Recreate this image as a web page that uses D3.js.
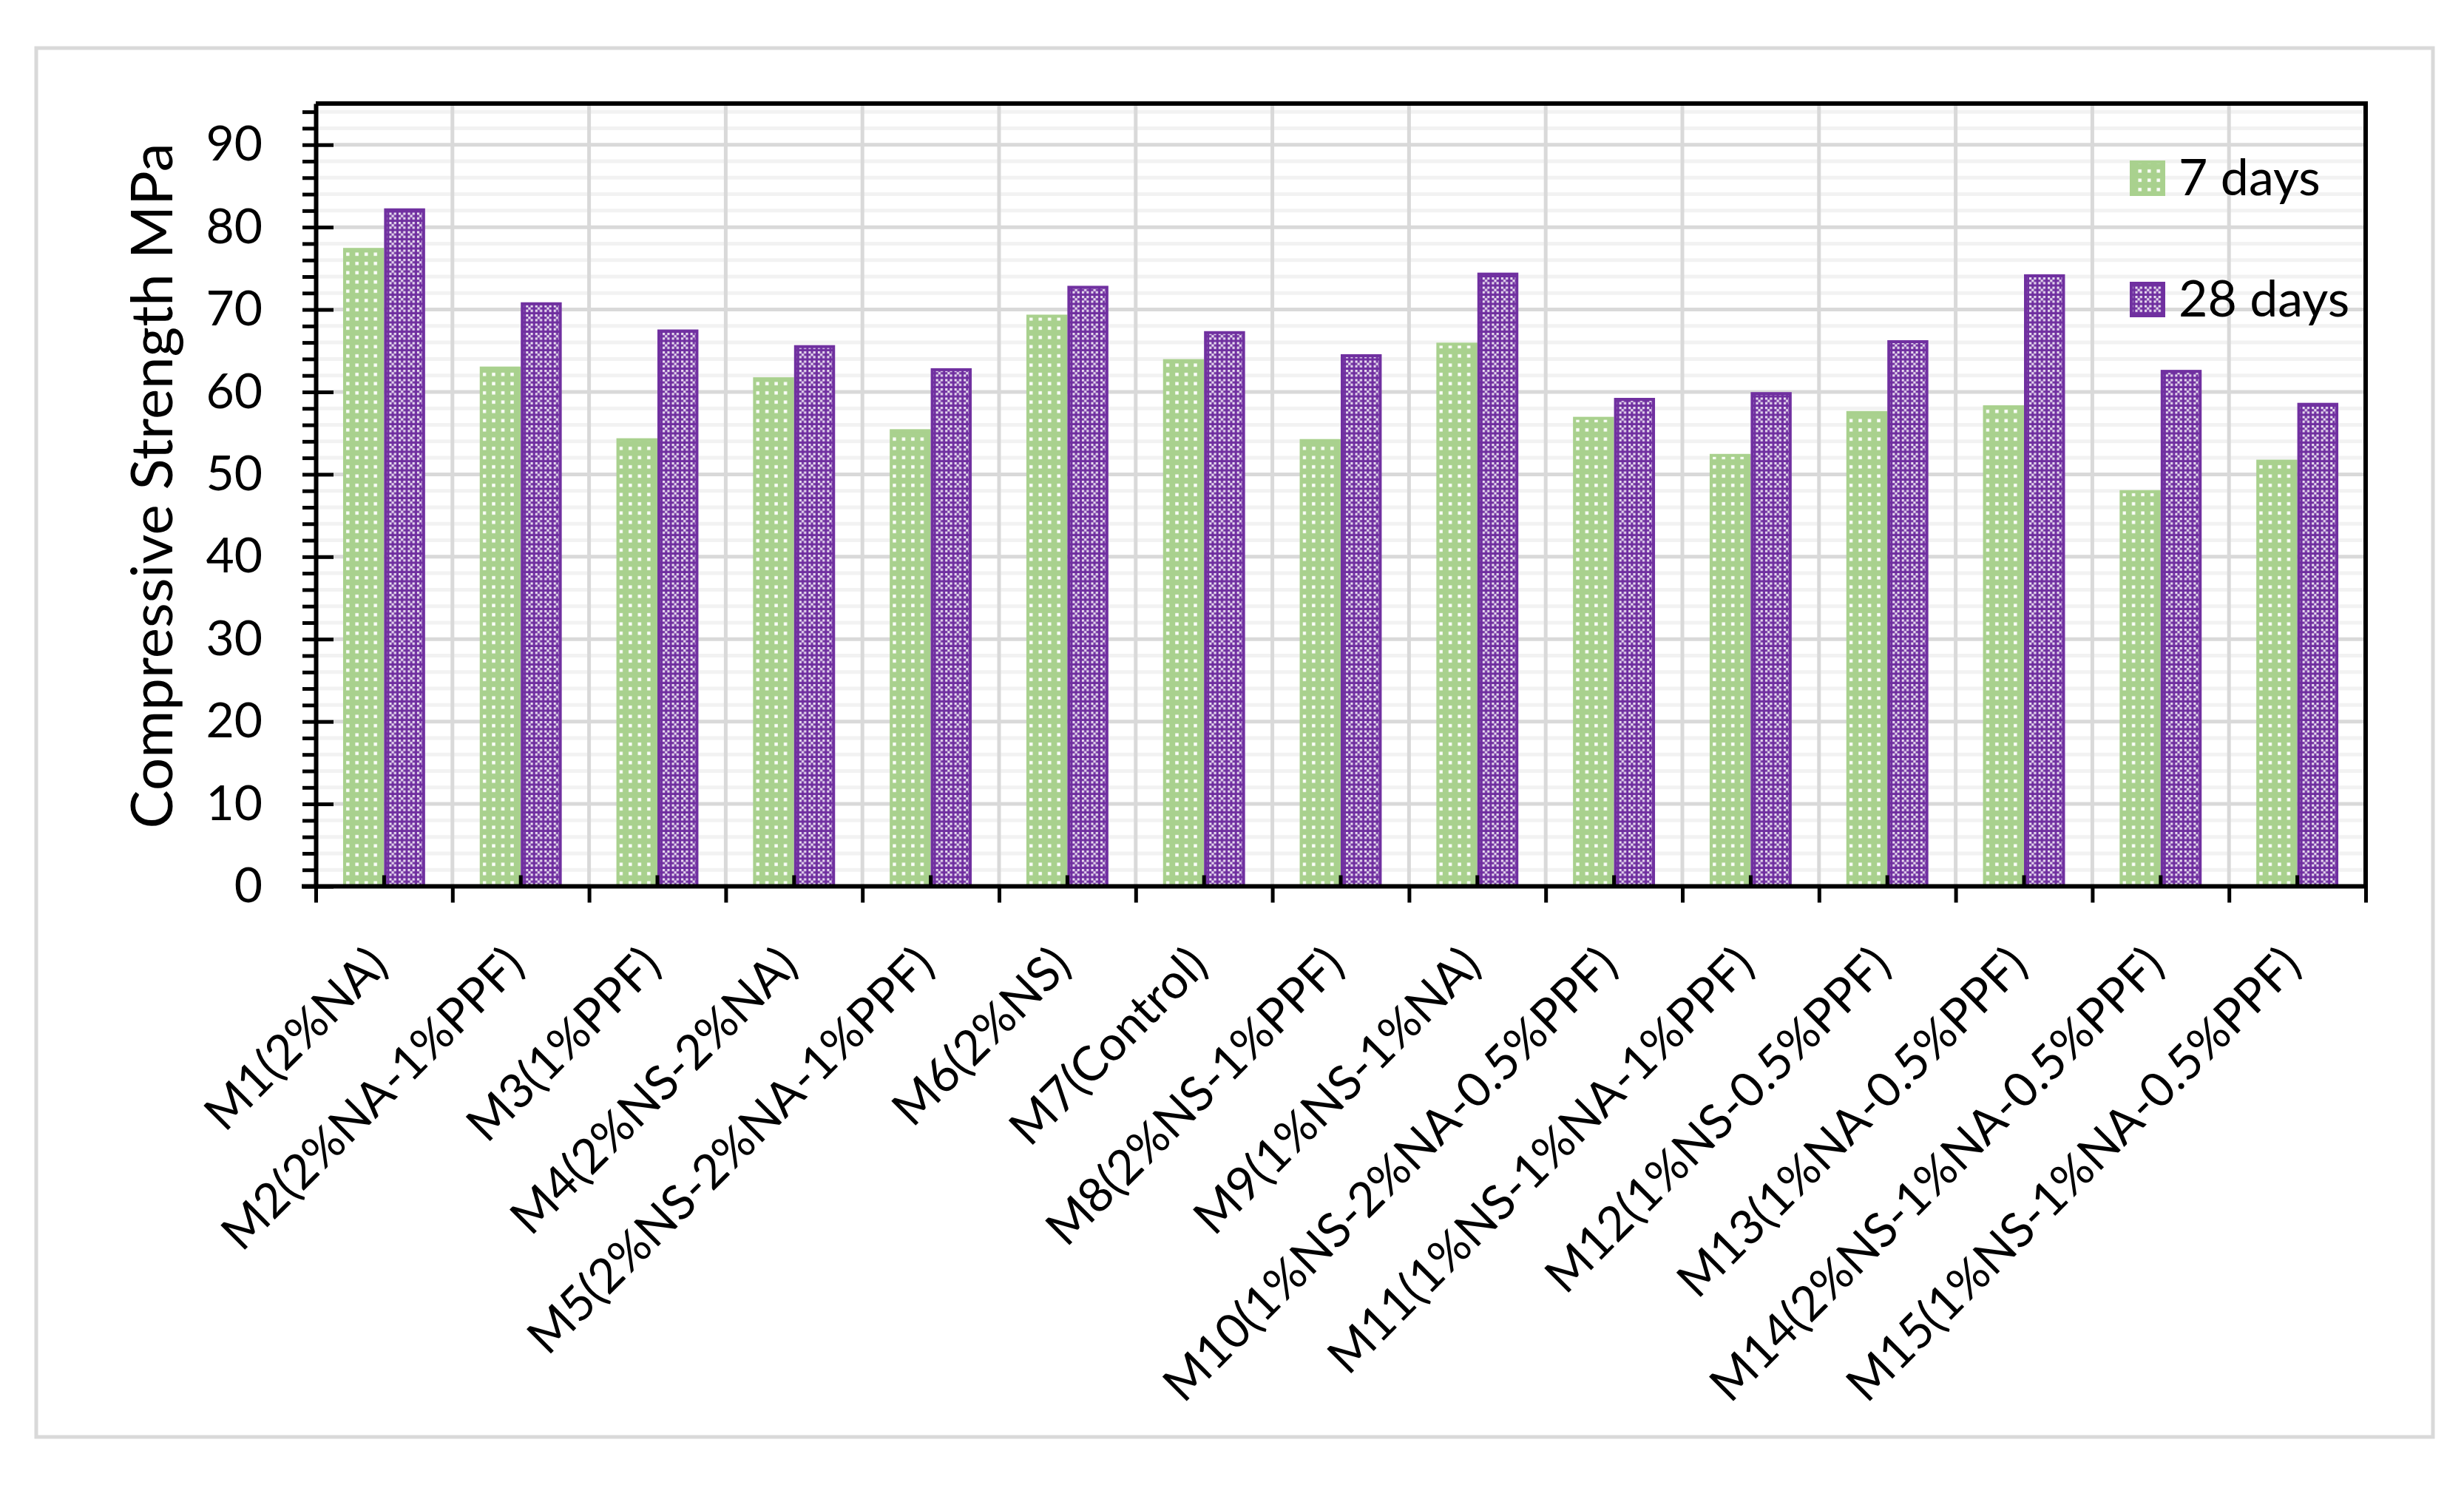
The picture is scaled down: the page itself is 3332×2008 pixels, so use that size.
<!DOCTYPE html>
<html>
<head>
<meta charset="utf-8">
<script src="https://cdn.jsdelivr.net/npm/d3@7"></script>
<style>
  html, body { margin: 0; padding: 0; background: #fff; }
  svg { display: block; }
  text { font-family: Lato, "Open Sans", sans-serif; fill: #000; }
</style>
</head>
<body>
<svg id="chart" width="3332" height="2008"></svg>
<script>
// data
const categories = [
  'M1(2%NA)', 'M2(2%NA-1%PPF)', 'M3(1%PPF)', 'M4(2%NS-2%NA)', 'M5(2%NS-2%NA-1%PPF)',
  'M6(2%NS)', 'M7(Control)', 'M8(2%NS-1%PPF)', 'M9(1%NS-1%NA)', 'M10(1%NS-2%NA-0.5%PPF)',
  'M11(1%NS-1%NA-1%PPF)', 'M12(1%NS-0.5%PPF)', 'M13(1%NA-0.5%PPF)', 'M14(2%NS-1%NA-0.5%PPF)',
  'M15(1%NS-1%NA-0.5%PPF)'
]
const days7 = [77.3, 62.9, 54.2, 61.6, 55.3, 69.2, 63.8, 54.1, 65.8, 56.8, 52.3, 57.5, 58.2, 47.9, 51.6]
const days28 = [82.1, 70.7, 67.4, 65.5, 62.7, 72.7, 67.2, 64.4, 74.3, 59.1, 59.8, 66.1, 74.1, 62.5, 58.5]
const seriesNames = ['7 days', '28 days']
const majorTicks = [0, 10, 20, 30, 40, 50, 60, 70, 80, 90]
const yTitle = 'Compressive Strength MPa'

let svg = d3.select('#chart')

// 画布区域
let pLeft = 427, pRight = 3199, pTop = 140, pBottom = 1198.5
let minorTicks = d3.range(0, 95, 2)

let x = d3.scaleBand().domain(categories).range([pLeft, pRight]).paddingInner(0.4).paddingOuter(0.2)
let xEdge = d3.scaleLinear().domain([0, categories.length]).range([pLeft, pRight])
let xSub = d3.scaleBand().domain(seriesNames).range([0, x.bandwidth()])
let y = d3.scaleLinear().domain([0, 95]).range([pBottom, pTop])

svg.append('rect').attr('width', 3332).attr('height', 2008).attr('fill', '#fff')

// 外框
svg.append('rect')
  .attr('x', 49).attr('y', 65).attr('width', 3241).attr('height', 1878)
  .attr('fill', 'none').attr('stroke', '#d9d9d9').attr('stroke-width', 5)

// 图案填充
let defs = svg.append('defs')
let pg = defs.append('pattern').attr('id', 'pat7').attr('patternUnits', 'userSpaceOnUse')
  .attr('width', 12.5).attr('height', 12.5)
pg.append('rect').attr('width', 12.5).attr('height', 12.5).attr('fill', '#a9d18e')
pg.append('rect').attr('x', 4).attr('y', 4).attr('width', 4.5).attr('height', 4.5).attr('fill', '#fbfdf9')

let pp = defs.append('pattern').attr('id', 'pat28').attr('patternUnits', 'userSpaceOnUse')
  .attr('width', 12.5).attr('height', 12.5)
pp.append('rect').attr('width', 12.5).attr('height', 12.5).attr('fill', '#7030a0')
let c = 12.5 / 4
;[[0, 0], [2, 0], [1, 1], [0, 2], [2, 2]].forEach(p => {
  pp.append('rect').attr('x', p[0] * c).attr('y', p[1] * c).attr('width', c).attr('height', c)
    .attr('fill', '#ffffff').attr('opacity', 0.85)
})

let fills = { '7 days': 'url(#pat7)', '28 days': 'url(#pat28)' }
let strokes = { '7 days': '#a9d18e', '28 days': '#7030a0' }

// 网格线
let grid = svg.append('g')
grid.selectAll('.minor').data(minorTicks.filter(v => v % 10 !== 0)).join('line')
  .attr('x1', pLeft).attr('x2', pRight).attr('y1', d => y(d)).attr('y2', d => y(d))
  .attr('stroke', '#f2f2f2').attr('stroke-width', 5)
grid.selectAll('.major').data(majorTicks).join('line')
  .attr('x1', pLeft).attr('x2', pRight).attr('y1', d => y(d)).attr('y2', d => y(d))
  .attr('stroke', '#d9d9d9').attr('stroke-width', 5)
grid.selectAll('.vert').data(d3.range(1, categories.length)).join('line')
  .attr('x1', d => xEdge(d)).attr('x2', d => xEdge(d)).attr('y1', pTop).attr('y2', pBottom)
  .attr('stroke', '#d9d9d9').attr('stroke-width', 5)

// 柱子
let rows = categories.map((cat, i) => ({ cat, values: [
  { key: '7 days', val: days7[i] },
  { key: '28 days', val: days28[i] }
] }))

svg.append('g').selectAll('g').data(rows).join('g')
  .attr('transform', d => `translate(${x(d.cat)},0)`)
  .selectAll('rect').data(d => d.values).join('rect')
  .attr('x', d => xSub(d.key) + 2)
  .attr('y', d => y(d.val))
  .attr('width', xSub.bandwidth() - 4)
  .attr('height', d => pBottom - y(d.val))
  .attr('fill', d => fills[d.key])
  .attr('stroke', d => strokes[d.key])
  .attr('stroke-width', 4)

// 上、右边框
svg.append('path')
  .attr('d', `M${pLeft},${pTop}H${pRight}V${pBottom}`)
  .attr('fill', 'none').attr('stroke', '#000').attr('stroke-width', 6)

// y 轴
let yMinor = svg.append('g').attr('transform', `translate(${pLeft},0)`)
  .call(d3.axisLeft(y).tickValues(minorTicks).tickSize(18).tickSizeOuter(0).tickFormat(''))
yMinor.selectAll('.tick line').attr('stroke', '#000').attr('stroke-width', 5)
yMinor.select('.domain').attr('stroke', '#000').attr('stroke-width', 6)

let yInner = svg.append('g').attr('transform', `translate(${pLeft},0)`)
  .call(d3.axisRight(y).tickValues(majorTicks).tickSize(24).tickSizeOuter(0).tickFormat(''))
yInner.select('.domain').remove()
yInner.selectAll('.tick line').attr('stroke', '#000').attr('stroke-width', 5)

let yLab = svg.append('g').attr('transform', `translate(${pLeft},0)`)
  .call(d3.axisLeft(y).tickValues(majorTicks).tickSize(0).tickPadding(72))
yLab.select('.domain').remove()
yLab.selectAll('text').style('font-family', 'Lato').style('font-size', '66px').attr('fill', '#000')

// x 轴
let xEdges = svg.append('g').attr('transform', `translate(0,${pBottom})`)
  .call(d3.axisBottom(xEdge).tickValues(d3.range(0, categories.length + 1)).tickSize(22).tickSizeOuter(0).tickFormat(''))
xEdges.selectAll('.tick line').attr('stroke', '#000').attr('stroke-width', 5)
xEdges.select('.domain').remove()

let xMid = svg.append('g').attr('transform', `translate(0,${pBottom})`)
  .call(d3.axisTop(x).tickSize(15).tickSizeOuter(0).tickFormat(''))
xMid.selectAll('.tick line').attr('stroke', '#000').attr('stroke-width', 5)
xMid.select('.domain').remove()

svg.append('line')
  .attr('x1', pLeft - 19).attr('x2', pRight + 3).attr('y1', pBottom).attr('y2', pBottom)
  .attr('stroke', '#000').attr('stroke-width', 6)

let xLab = svg.append('g').attr('transform', `translate(0,${pBottom})`)
  .call(d3.axisBottom(x).tickSize(0).tickSizeOuter(0))
xLab.select('.domain').remove()
xLab.selectAll('text')
  .attr('x', 0).attr('y', 0).attr('dy', '0.35em')
  .attr('transform', 'translate(-8,94) rotate(-45)')
  .attr('text-anchor', 'end')
  .style('font-family', 'Lato').style('font-size', '65px').attr('fill', '#000')

// y 轴标题
svg.append('text')
  .attr('transform', `translate(233,657) rotate(-90)`)
  .attr('text-anchor', 'middle')
  .style('font-size', '78px')
  .text(yTitle)

// 图例
let legend = svg.append('g')
seriesNames.forEach((name, i) => {
  let gy = 217 + i * 164
  legend.append('rect')
    .attr('x', 2882).attr('y', gy + 2).attr('width', 44).attr('height', 44)
    .attr('fill', fills[name]).attr('stroke', strokes[name]).attr('stroke-width', 4)
  legend.append('text')
    .attr('x', 2946).attr('y', gy + 47)
    .style('font-size', '68px')
    .text(name)
})
</script>
</body>
</html>
